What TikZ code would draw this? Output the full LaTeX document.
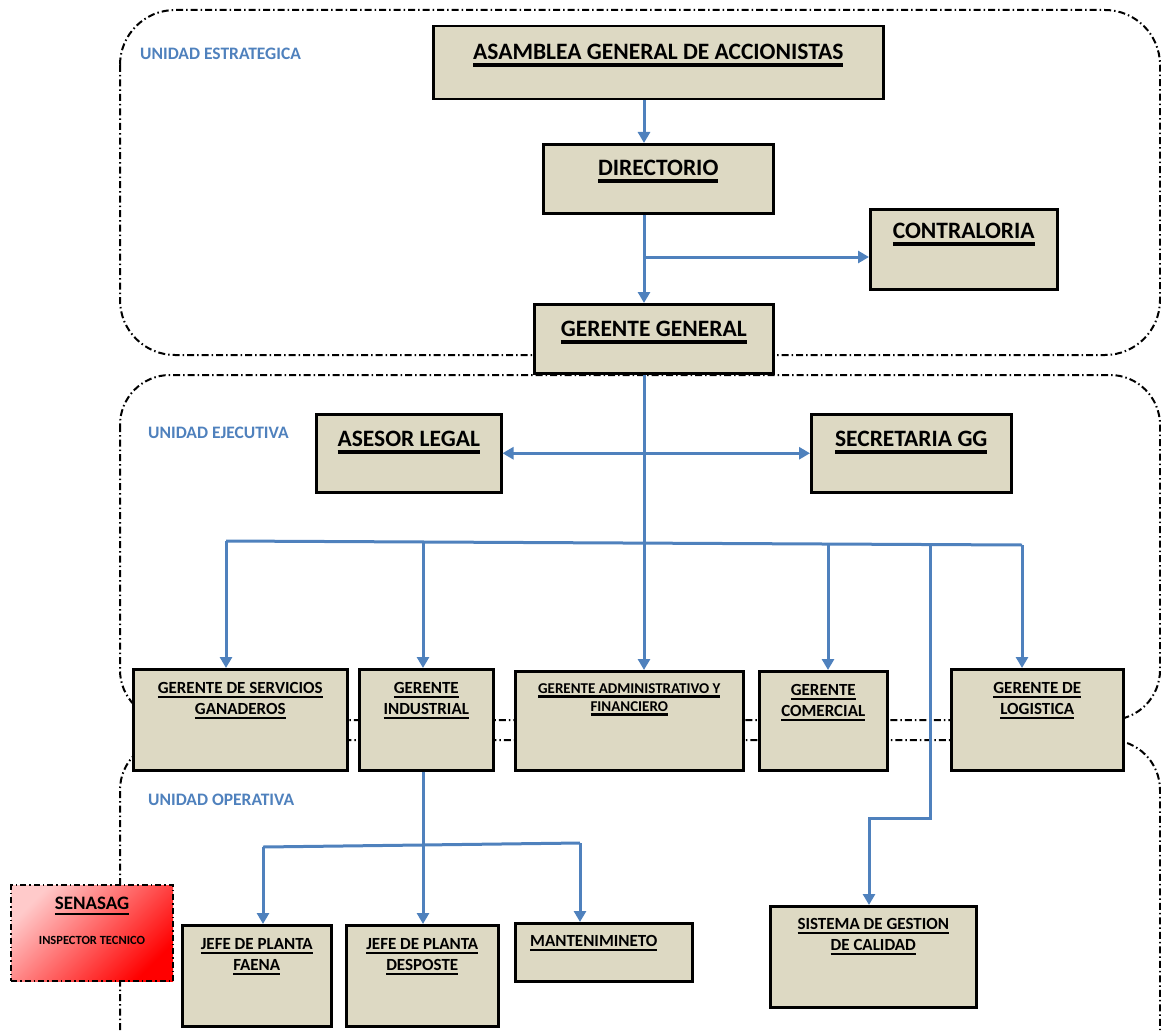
\documentclass[tikz,border=0pt]{standalone}
\usepackage{fontspec}
\setmainfont{Carlito}
\usetikzlibrary{arrows.meta,calc}
\definecolor{boxfill}{HTML}{DDD9C3}
\definecolor{connblue}{HTML}{4F81BD}
\definecolor{unitblue}{HTML}{4F81BD}
\definecolor{pinklt}{HTML}{FFCACA}
\newcommand\uln[1]{\leavevmode\setbox0=\hbox{#1}\rlap{\rule[-0.3em]{\wd0}{0.15em}}\box0}
\begin{document}
\begin{tikzpicture}[x=1pt,y=-1pt,
 box/.style={draw=black, line width=2.5pt, fill=boxfill, inner sep=0pt, anchor=north west},
 senbox/.style={draw=black, line width=2pt, dash pattern=on 6pt off 3pt on 1.5pt off 3pt, top color=pinklt, bottom color=red, shading angle=45, inner sep=0pt, anchor=north west},
 txt/.style={anchor=north, align=center, inner sep=0pt},
 region/.style={draw=black, line width=2pt, dash pattern=on 7pt off 3pt on 1.5pt off 3pt},
 unit/.style={anchor=north west, inner sep=0pt, text=unitblue, font=\bfseries\fontsize{17.5}{21}\selectfont},
 conn/.style={draw=connblue, line width=3pt},
 arr/.style={conn, -{Triangle[width=12pt,length=11pt]}},
 darr/.style={conn, {Triangle[width=12pt,length=11pt]}-{Triangle[width=12pt,length=11pt]}},
 big/.style={font=\bfseries\fontsize{23.5}{28}\selectfont},
 mid/.style={font=\bfseries\fontsize{17}{21}\selectfont},
 sml/.style={font=\bfseries\fontsize{15}{18}\selectfont},
]
\useasboundingbox (0,0) rectangle (1161,1030);

% regions
\draw[region, rounded corners=55pt] (120,10) rectangle (1160,355);
\draw[region, rounded corners=50pt] (120,375) rectangle (1160,720);
\draw[region, rounded corners=50pt] (120,1030) -- (120,740) -- (1160,740) -- (1160,1030);

\node[unit] (u1) at (140,48) {UNIDAD ESTRATEGICA};
\node[unit] (u2) at (148,427) {UNIDAD EJECUTIVA};
\node[unit] (u3) at (148,794) {UNIDAD OPERATIVA};

% boxes
\node[box, minimum width=450pt, minimum height=73pt] (asam) at (432,25) {};
\node[box, minimum width=230pt, minimum height=69pt] (dir) at (542,143) {};
\node[box, minimum width=187pt, minimum height=80pt] (contr) at (869,208) {};
\node[box, minimum width=239pt, minimum height=69pt] (gg) at (533,303) {};
\node[box, minimum width=185pt, minimum height=78pt] (asesor) at (315,413) {};
\node[box, minimum width=200pt, minimum height=78pt] (secr) at (810,413) {};
\node[box, minimum width=214pt, minimum height=101pt] (serv) at (132,668) {};
\node[box, minimum width=134pt, minimum height=101pt] (indus) at (358,668) {};
\node[box, minimum width=228pt, minimum height=99pt] (admin) at (514,670) {};
\node[box, minimum width=128pt, minimum height=99pt] (comer) at (758,670) {};
\node[box, minimum width=172pt, minimum height=101pt] (logis) at (950,668) {};
\node[box, minimum width=149pt, minimum height=101pt] (faena) at (181,924) {};
\node[box, minimum width=152pt, minimum height=101pt] (desp) at (345,924) {};
\node[box, minimum width=177pt, minimum height=58pt] (mant) at (514,922) {};
\node[box, minimum width=206pt, minimum height=101pt] (sgc) at (769,905) {};
\node[senbox, minimum width=162pt, minimum height=96pt] (sen) at (10,884) {};

% texts
\node[txt, big] (asam-t) at ($(asam.north)+(0,19)$) {\uln{ASAMBLEA GENERAL DE ACCIONISTAS}};
\node[txt, big] (dir-t) at ($(dir.north)+(0,17)$) {\uln{DIRECTORIO}};
\node[txt, big] (contr-t) at ($(contr.north)+(0,15)$) {\uln{CONTRALORIA}};
\node[txt, big] (gg-t) at ($(gg.north)+(0,18)$) {\uln{GERENTE GENERAL}};
\node[txt, big] (asesor-t) at ($(asesor.north)+(0,18)$) {\uln{ASESOR LEGAL}};
\node[txt, big] (secr-t) at ($(secr.north)+(0,18)$) {\uln{SECRETARIA GG}};
\node[txt, mid] (serv-t) at ($(serv.north)+(0,14)$) {\uln{GERENTE DE SERVICIOS}\\\uln{GANADEROS}};
\node[txt, mid] (indus-t) at ($(indus.north)+(0,14)$) {\uln{GERENTE}\\\uln{INDUSTRIAL}};
\node[txt, sml] (admin-t) at ($(admin.north)+(0,13)$) {\uln{GERENTE ADMINISTRATIVO Y}\\\uln{FINANCIERO}};
\node[txt, mid] (comer-t) at ($(comer.north)+(0,14)$) {\uln{GERENTE}\\\uln{COMERCIAL}};
\node[txt, mid] (logis-t) at ($(logis.north)+(0,14)$) {\uln{GERENTE DE}\\\uln{LOGISTICA}};
\node[txt, mid] (faena-t) at ($(faena.north)+(0,14)$) {\uln{JEFE DE PLANTA}\\\uln{FAENA}};
\node[txt, mid] (desp-t) at ($(desp.north)+(0,14)$) {\uln{JEFE DE PLANTA}\\\uln{DESPOSTE}};
\node[txt, mid] (mant-t) at ($(mant.north)+(-10,13)$) {\uln{MANTENIMINETO}};
\node[txt, mid] (sgc-t) at ($(sgc.north)+(0,13)$) {\uln{SISTEMA DE GESTION}\\\uln{DE CALIDAD}};
\node[txt, font=\bfseries\fontsize{19}{22}\selectfont] (sen-t) at ($(sen.north)+(0,13)$) {\uln{SENASAG}};
\node[txt, font=\bfseries\fontsize{12.5}{14}\selectfont] (sen-s) at ($(sen.north)+(0,52)$) {INSPECTOR TECNICO};

% connectors
\coordinate (sp) at (644,0);
\draw[arr] (asam.south -| sp) -- (dir.north -| sp);
\draw[arr] (dir.south -| sp) -- (gg.north -| sp);
\coordinate (cj) at (644,257);
\draw[arr] (cj) -- (cj -| contr.west);
\draw[arr] (gg.south -| sp) -- (admin.north -| sp);
\draw[darr] (asesor.east) -- (secr.west);

\coordinate (b1) at (226,541);
\coordinate (b2) at (423,542);
\coordinate (b4) at (828,544);
\coordinate (b5) at (930,544.5);
\coordinate (b6) at (1022,545);
\draw[conn] (b1) -- (b6);
\draw[arr] (b1) -- (b1 |- serv.north);
\draw[arr] (b2) -- (b2 |- indus.north);
\draw[arr] (b4) -- (b4 |- comer.north);
\draw[arr] (b6) -- (b6 |- logis.north);
\coordinate (q1) at (930,818);
\coordinate (q2) at (869,818);
\draw[arr] (b5) -- (q1) -- (q2) -- (q2 |- sgc.north);

\coordinate (ix) at (423,0);
\draw[arr] (indus.south -| ix) -- (desp.north -| ix);
\coordinate (h1) at (263,847);
\coordinate (h2) at (580,843);
\draw[conn] (h1) -- (h2);
\draw[arr] (h1) -- (h1 |- faena.north);
\draw[arr] (h2) -- (h2 |- mant.north);
\end{tikzpicture}
\end{document}
